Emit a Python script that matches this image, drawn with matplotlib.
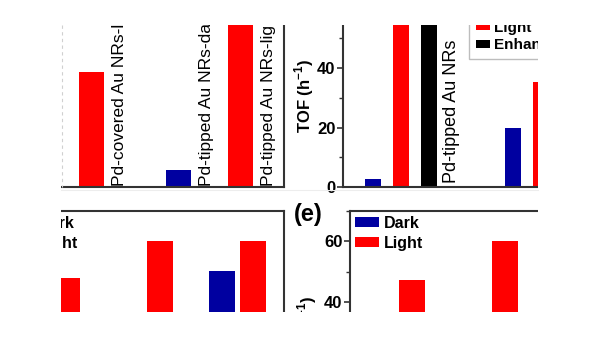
import matplotlib
matplotlib.use('Agg')
import numpy as np
import matplotlib.pyplot as plt
from matplotlib.patches import Rectangle
from matplotlib.lines import Line2D
from matplotlib.ticker import MultipleLocator

plt.rcParams['font.family'] = ['Liberation Sans', 'DejaVu Sans']
plt.rcParams['font.weight'] = 'bold'
plt.rcParams['mathtext.fontset'] = 'custom'
plt.rcParams['mathtext.rm'] = 'Liberation Sans:bold'
plt.rcParams['mathtext.bf'] = 'Liberation Sans:bold'

# ---- data (values hidden by the crop are estimates) ----
conv_labels = ['Pd-covered Au NRs-light', 'Pd-tipped Au NRs-dark', 'Pd-tipped Au NRs-light']
conv_group = [0, 1, 1]
conv_kind = ['light', 'dark', 'light']
conv_values = [38.7, 5.7, 60.0]

tof_groups = ['Pd-tipped Au NRs', 'Pd-covered Au NRs']
tof_dark = [2.7, 19.8]
tof_light = [60.0, 35.3]
tof_enh = [57.0, 15.5]

d_dark = [20.0, 22.0, 50.2]
d_light = [47.9, 60.0, 60.0]

e_dark = [18.0, 20.0, 48.0]
e_light = [47.2, 60.0, 58.0]

RED = '#ff0000'
BLUE = '#0000a0'
W, H = 600, 338


def box(x0, y0, x1, y1):
    # pixel box (top-left origin) -> figure fraction rect
    return [x0 / W, 1 - y1 / H, (x1 - x0) / W, (y1 - y0) / H]


def style(ax, major=20, minor=10):
    for s in ax.spines.values():
        s.set_linewidth(1.5)
        s.set_color('#333333')
    ax.tick_params(axis='x', bottom=False, labelbottom=False)
    ax.yaxis.set_major_locator(MultipleLocator(major))
    ax.yaxis.set_minor_locator(MultipleLocator(minor))
    ax.tick_params(axis='y', which='major', direction='out', length=4, width=1.2,
                   labelsize=12, pad=1.5, color='#333333')
    ax.tick_params(axis='y', which='minor', direction='out', length=3, width=1.0,
                   color='#333333')


fig = plt.figure(figsize=(6, 3.38), dpi=100)

# ---- top-left panel ----
ax_a = fig.add_axes(box(-14, 5, 284, 187))
style(ax_a)
pos_a = np.array(conv_group) + np.where(np.array(conv_kind) == 'dark', -0.208, 0.208)
cols_a = [BLUE if k == 'dark' else RED for k in conv_kind]
ax_a.bar(pos_a, conv_values, width=0.168, color=cols_a)
for x, lab in zip(pos_a, conv_labels):
    ax_a.text(x + 0.084 + 0.055, 0.5, lab, rotation=90, ha='left', va='bottom',
              fontsize=12.5, fontweight='normal')
ax_a.set_xlim(-0.5, 1.5)
ax_a.set_ylim(0, 61.2)

# ---- top-right panel (TOF) ----
ax_b = fig.add_axes(box(343, 5, 629, 187))
style(ax_b)
g = np.arange(len(tof_groups))
ax_b.bar(g - 0.2, tof_dark, width=0.115, color=BLUE, label='Dark')
ax_b.bar(g, tof_light, width=0.115, color=RED, label='Light')
ax_b.bar(g + 0.2, tof_enh, width=0.115, color='black', label='Enhancement')
for x, lab in zip(g, tof_groups):
    ax_b.text(x + 0.2975, 1.3, lab, rotation=90, ha='left', va='bottom',
              fontsize=13, fontweight='normal')
ax_b.set_xlim(-0.416, 1.634)
ax_b.set_ylim(0, 61.2)
ax_b.set_ylabel('TOF (h$^{-1}$)', fontsize=12, fontweight='bold')
ax_b.yaxis.set_label_coords(-0.094, 0.5)
ax_b.legend(loc='lower left', bbox_to_anchor=(469 / W, 1 - 59 / H),
            bbox_transform=fig.transFigure, borderaxespad=0, fontsize=11,
            handlelength=0.9, handleheight=0.4, handletextpad=0.3,
            labelspacing=0.2, borderpad=0.45, fancybox=False,
            edgecolor='#bdbdbd', framealpha=1)

# ---- bottom panels (d) and (e) ----
ax_c = fig.add_axes(box(5, 211, 284, 423))
ax_d = fig.add_axes(box(350, 211, 629, 423))
for ax, dark, light in [(ax_c, d_dark, d_light), (ax_d, e_dark, e_light)]:
    style(ax)
    gg = np.arange(len(dark))
    ax.bar(gg - 0.167, dark, width=0.28, color=BLUE, label='Dark')
    ax.bar(gg + 0.167, light, width=0.28, color=RED, label='Light')
    ax.set_xlim(-0.5, 2.5)
    ax.set_ylim(0, 70)
    ax.legend(loc='upper left', bbox_to_anchor=(0, 1), borderaxespad=0,
              frameon=False, fontsize=11.5, handlelength=1.5, handleheight=0.6,
              handletextpad=0.3, labelspacing=0.3, borderpad=0.3)
    ax.set_ylabel('TOF (h$^{-1}$)', fontsize=12, fontweight='bold')
    ax.yaxis.set_label_coords(-0.111, 0.425)

fig.text(294 / W, 1 - 214 / H, '(e)', fontsize=17, fontweight='bold',
         ha='left', va='center')

# ---- crop window: everything outside is blank ----
for r in [(0, 0, 61, H), (538, 0, W - 538, H), (0, 0, W, 25), (0, 312, W, H - 312)]:
    fig.add_artist(Rectangle((r[0] / W, 1 - (r[1] + r[3]) / H), r[2] / W, r[3] / H,
                             transform=fig.transFigure, facecolor='white',
                             edgecolor='none', zorder=100))
fig.add_artist(Line2D([61.8 / W, 61.8 / W], [1 - 25 / H, 1 - 187 / H],
                      transform=fig.transFigure, color='#d0d0d0', lw=0.8,
                      ls=(0, (3, 3)), zorder=101))
fig.add_artist(Line2D([61 / W, 538 / W], [1 - 190 / H, 1 - 190 / H],
                      transform=fig.transFigure, color='#ededed', lw=0.8, zorder=101))

fig.savefig('out.png', dpi=100)
